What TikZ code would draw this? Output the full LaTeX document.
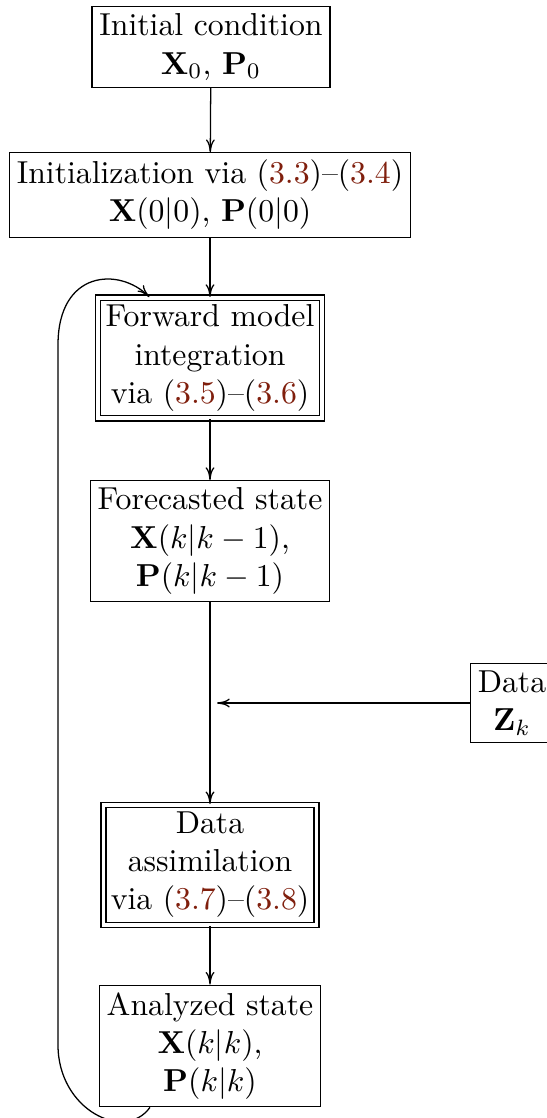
\documentclass[tikz,border=0pt]{standalone}
\usepackage{amsmath}
\usetikzlibrary{calc,arrows.meta}
\definecolor{refcol}{rgb}{0.5,0.12,0.05}
\newcommand{\eqr}[1]{(\textcolor{refcol}{#1})}
\begin{document}
\begin{tikzpicture}[x=0.315pt,y=-0.315pt,
  box/.style={draw,align=center,inner sep=2.3pt,line width=0.4pt},
  dbox/.style={box,double,double distance=1.2pt},
  arr/.style={-{To[length=4pt,width=2.8pt]},line width=0.4pt}]
\useasboundingbox (0,0) rectangle (547,1118);
\node[box] (b1) at (211,47) {Initial condition\\ $\mathbf{X}_0$, $\mathbf{P}_0$};
\node[box] (b2) at (210,195) {Initialization via \eqr{3.3}--\eqr{3.4}\\ $\mathbf{X}(0|0)$, $\mathbf{P}(0|0)$};
\node[dbox] (b3) at (210,358) {Forward model\\ integration\\ via \eqr{3.5}--\eqr{3.6}};
\node[box] (b4) at (210,541) {Forecasted state\\ $\mathbf{X}(k|k-1)$,\\ $\mathbf{P}(k|k-1)$};
\node[dbox] (b5) at (210,865) {Data\\ assimilation\\ via \eqr{3.7}--\eqr{3.8}};
\node[box] (b6) at (210,1046) {Analyzed state\\ $\mathbf{X}(k|k)$,\\ $\mathbf{P}(k|k)$};
\node[box] (data) at (512,703) {Data\\ $\mathbf{Z}_k$};
\coordinate (tip) at (217,703);
\coordinate (ls) at ($(b6.south west)!0.23!(b6.south east)$);
\coordinate (le) at ($(b3.north west)!0.23!(b3.north east)$);
\draw[arr] (b1) -- (b2);
\draw[arr] (b2) -- (b3);
\draw[arr] (b3) -- (b4);
\draw[arr] (b4) -- (b5);
\draw[arr] (b5) -- (b6);
\draw[arr] (data) -- (tip);
\draw[arr] (ls) .. controls +(-25,35) and +(0,65) .. (58,1045) -- (58,345) .. controls +(0,-75) and +(-30,-30) .. (le);
\end{tikzpicture}
\end{document}
